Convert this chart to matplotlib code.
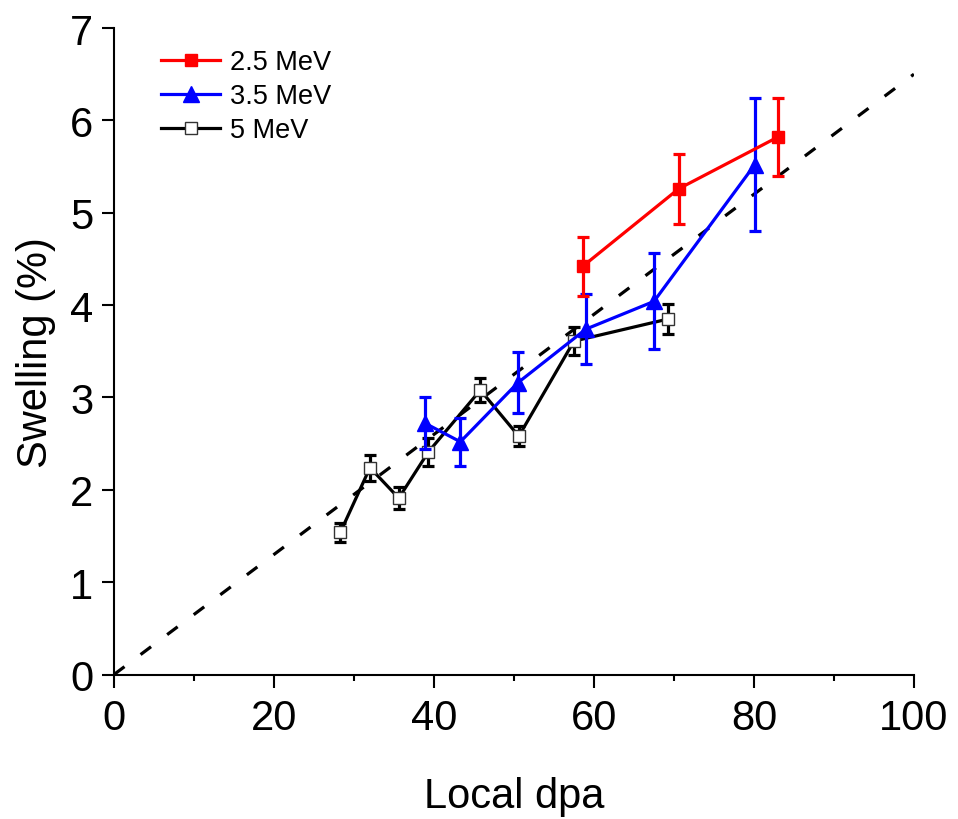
import matplotlib
matplotlib.use("Agg")
import matplotlib.pyplot as plt
import numpy as np
from matplotlib.ticker import MultipleLocator

plt.rcParams['font.family'] = ['Liberation Sans', 'DejaVu Sans']

# 2.5 MeV irradiation
dpa_25 = [58.6, 70.6, 83.0]
sw_25 = [4.42, 5.26, 5.82]
err_25 = [0.32, 0.38, 0.42]

# 3.5 MeV irradiation
dpa_35 = [38.9, 43.3, 50.5, 59.0, 67.5, 80.1]
sw_35 = [2.72, 2.52, 3.16, 3.74, 4.04, 5.52]
err_35 = [0.28, 0.26, 0.33, 0.38, 0.52, 0.72]

# 5 MeV irradiation
dpa_5 = [28.3, 32.0, 35.6, 39.3, 45.8, 50.6, 57.5, 69.3]
sw_5 = [1.54, 2.24, 1.91, 2.41, 3.08, 2.58, 3.61, 3.85]
err_5 = [0.10, 0.14, 0.12, 0.15, 0.13, 0.11, 0.15, 0.16]

# Guide line: swelling rate of 0.065 %/dpa
guide_dpa = [0, 100]
guide_rate = 0.065

fig = plt.figure(figsize=(9.58, 8.2), dpi=100)
ax = fig.add_axes([0.119, 0.1762, 0.835, 0.7884])

lw = 2.3
ax.plot(guide_dpa, [guide_rate * d for d in guide_dpa], color='black', lw=lw,
        linestyle=(0, (4.1, 6.3)), zorder=1)

series = [
    (dpa_5, sw_5, err_5, 'black', 's', 'white', 8.5, '5 MeV'),
    (dpa_35, sw_35, err_35, 'blue', '^', 'blue', 11, '3.5 MeV'),
    (dpa_25, sw_25, err_25, 'red', 's', 'red', 9, '2.5 MeV'),
]
handles = {}
z = 2
for x, y, e, c, m, fc, ms, lab in series:
    ax.errorbar(x, y, yerr=e, fmt='none', ecolor=c, elinewidth=lw,
                capsize=4.5, capthick=lw, zorder=z)
    h, = ax.plot(x, y, color=c, lw=lw, marker=m, markersize=ms,
                 markerfacecolor=fc, markeredgecolor=('#333333' if fc == 'white' else c),
                 markeredgewidth=1.0, label=lab, zorder=z + 1)
    handles[lab] = h
    z += 2

ax.set_xlim(0, 100)
ax.set_ylim(0, 7)
ax.xaxis.set_major_locator(MultipleLocator(20))
ax.xaxis.set_minor_locator(MultipleLocator(10))
ax.yaxis.set_major_locator(MultipleLocator(1))

for s in ['top', 'right']:
    ax.spines[s].set_visible(False)
for s in ['left', 'bottom']:
    ax.spines[s].set_linewidth(1.5)

ax.tick_params(axis='both', which='major', direction='out', length=9, width=1.5,
               labelsize=30, pad=6)
ax.tick_params(axis='x', which='major', pad=8)
ax.tick_params(axis='x', which='minor', direction='out', length=4.5, width=1.5)

ax.set_xlabel('Local dpa', fontsize=30, labelpad=27)
ax.set_ylabel('Swelling (%)', fontsize=30, labelpad=10)

order = ['2.5 MeV', '3.5 MeV', '5 MeV']
ax.legend([handles[k] for k in order], order, loc='upper left',
          bbox_to_anchor=(0.045, 0.984), frameon=False, fontsize=19.5,
          handlelength=2.2, handletextpad=0.35, labelspacing=0.3,
          borderaxespad=0.0)

fig.savefig('out.png', dpi=100)
